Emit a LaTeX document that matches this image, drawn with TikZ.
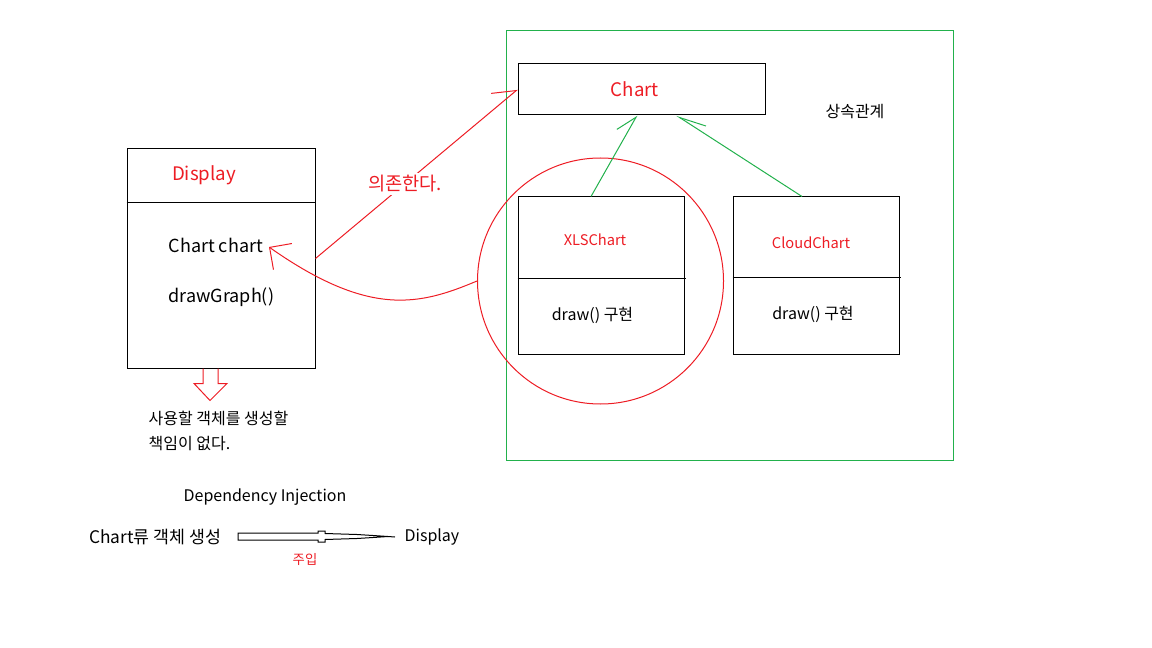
\documentclass[tikz,border=0pt]{standalone}
\usepackage{fontspec}
\setmainfont{Noto Sans CJK KR}
\usetikzlibrary{arrows.meta,calc}
\definecolor{umlred}{RGB}{237,28,36}
\definecolor{umlgreen}{RGB}{34,177,76}
\tikzset{
  cls/.style  = {rectangle, draw, line width=0.75pt, inner sep=0},
  ttl/.style  = {text=umlred, font=\fontsize{14}{16}\selectfont, inner sep=1pt},
  sub/.style  = {text=umlred, font=\fontsize{11}{13}\selectfont, inner sep=1pt},
  body/.style = {font=\fontsize{12}{14}\selectfont, inner sep=1pt},
  big/.style  = {font=\fontsize{13.5}{16}\selectfont, inner sep=1pt},
  tiny/.style = {text=umlred, font=\fontsize{10}{12}\selectfont, inner sep=1pt},
  inh/.style  = {draw=umlgreen, line width=0.75pt},
  dep/.style  = {draw=umlred, line width=0.75pt}
}

\begin{document}
\begin{tikzpicture}[x=0.75pt, y=-0.75pt]
  \useasboundingbox (0,0) rectangle (1152,648);

  \node[cls, draw=umlgreen, minimum width=335.25pt, minimum height=321.75pt] (family) at (729.5,245.5) {};
  \node[cls, minimum width=185.25pt, minimum height=38.25pt] (chart) at (641.5,89.5) {};
  \node[ttl] (chartname) at (635,89) {Chart};
  \node[body] (inherit) at (855,112) {상속관계};

  \node[cls, minimum width=141pt, minimum height=164.25pt] (display) at (221,258.5) {};
  \draw[line width=0.75pt] (display.north west) ++(0,54) -- ++(188,0);
  \node[ttl] (displayname) at (204,175) {Display};
  \node[big, anchor=west] (field) at (167,245) {Chart chart};
  \node[big, anchor=west] (method) at (167,297) {drawGraph()};
  \coordinate (fieldtip) at (269,247);

  \node[cls, minimum width=124.5pt, minimum height=117.75pt] (xls) at (601,275.5) {};
  \draw[line width=0.75pt] (xls.north west) ++(0,82) -- ++(168,0);
  \node[sub] (xlsname) at (595,240) {XLSChart};
  \node[body] (xlsdraw) at (592.5,315) {draw() 구현};

  \node[cls, minimum width=124.5pt, minimum height=117.75pt] (cloud) at (816,275.5) {};
  \draw[line width=0.75pt] (cloud.north west) ++(0,81) -- ++(168,0);
  \node[sub] (cloudname) at (811,243) {CloudChart};
  \node[body] (clouddraw) at (813,314) {draw() 구현};

  \node[circle, draw=umlred, line width=0.75pt, minimum size=184.5pt, inner sep=0] (impl) at (600.5,281) {};

  \draw[inh, -{Straight Barb[left, length=15pt, angle'=56]}] ($(xls.north)+(-10,0)$) -- ($(chart.south)+(-4.5,0)$);
  \draw[inh, -{Straight Barb[right, length=20pt, angle'=30]}] ($(cloud.north)+(-14,0)$) -- ($(chart.south)+(35,0)$);

  \draw[dep, -{Straight Barb[left, length=15.75pt, angle'=67]}] (display.east) -- node[pos=0.443, fill=white, ttl, inner sep=2pt] (depends) {의존한다.} (chart.west);
  \draw[dep, -{Straight Barb[length=12pt, angle'=90]}] (impl.west) .. controls (420,305) and (370,318) .. (fieldtip);

  \draw[dep] ($(display.south)+(-18,0)$) -- ++(0,15) -- ++(-9,0) -- ++(16,17) -- ++(17,-17) -- ++(-9,0) -- ++(0,-15);
  \node[body, anchor=west] (noresp1) at (147,418) {사용할 객체를 생성할};
  \node[body, anchor=west] (noresp2) at (147,444) {책임이 없다.};

  \node[body] (ditl) at (265,497) {Dependency Injection};
  \node[body, font=\fontsize{13}{15}\selectfont, anchor=east] (maker) at (223,537) {Chart류 객체 생성};
  \node[body, anchor=west] (client) at (403,537) {Display};
  \node[tiny] (inject) at (305,559) {주입};
  \coordinate (injtip) at (388,536.5);
  \draw[line width=0.75pt] (238,533) -- (318,533) -- (318,531) -- (325,531) -- (325,533.5) -- (357,534.5) -- (373,535.5) -- (injtip)
    -- (373,537.5) -- (357,538.5) -- (325,539.5) -- (325,542) -- (318,542) -- (318,540) -- (238,540) -- cycle;
  \draw[line width=0.75pt] (injtip) -- ($(client.west)+(-8,0)$);
\end{tikzpicture}
\end{document}
